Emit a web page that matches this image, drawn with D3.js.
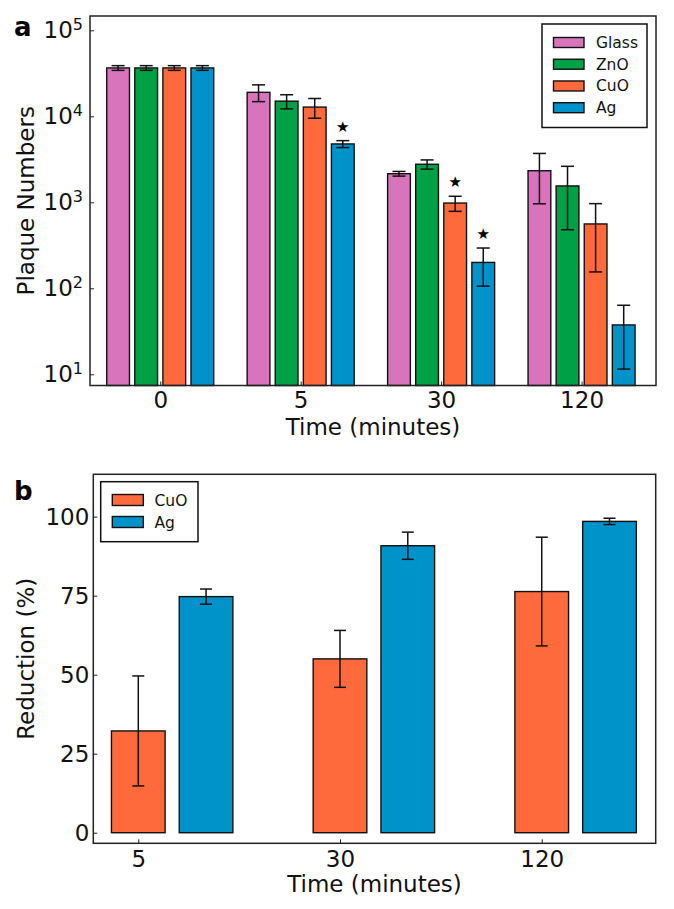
<!DOCTYPE html>
<html>
<head>
<meta charset="utf-8">
<script src="https://cdn.jsdelivr.net/npm/d3@7"></script>
<style>
  body { margin: 0; background: #fff; }
  svg { display: block; font-family: "DejaVu Sans", sans-serif; }
</style>
</head>
<body>
<svg id="chart" width="674" height="909"></svg>
<script>
// panel a: plaque numbers (log scale)
const timeLabels = ['0', '5', '30', '120'];
const materials = ['Glass', 'ZnO', 'CuO', 'Ag'];
const materialColors = ['#d874bc', '#00a046', '#ff6a3d', '#0093c9'];

const glassMean = [36500, 19000, 2150, 2330];
const glassErr = [2300, 4200, 135, 1370];
const znoMean = [36500, 15000, 2770, 1550];
const znoErr = [2300, 2800, 340, 1070];
const cuoMean = [36500, 12800, 980, 560];
const cuoErr = [2300, 3300, 195, 405];
const agMean = [36500, 4770, 200, 37.5];
const agErr = [2300, 440, 94, 26];
// significance stars, per material and time point
const cuoStar = [false, false, true, false];
const agStar = [false, true, true, false];
const logTicks = [10, 100, 1000, 10000, 100000];

// panel b: reduction (%)
const reductionTimes = ['5', '30', '120'];
const reductionMaterials = ['CuO', 'Ag'];
const cuoReduction = [32.2, 55.0, 76.3];
const cuoReductionErr = [17.4, 9.0, 17.2];
const agReduction = [74.7, 90.8, 98.5];
const agReductionErr = [2.4, 4.3, 1.0];
const reductionTicks = [0, 25, 50, 75, 100];

(function() {

  let svg = d3.select('#chart');
  let tickFont = '23px', titleFont = '23px';

  drawPanelA();
  drawPanelB();

  function errorBar(g, x, yScale, mean, err, cap) {
    let yTop = yScale(mean + err), yBot = yScale(mean - err);
    g.append('line').attr('x1', x).attr('x2', x).attr('y1', yTop).attr('y2', yBot);
    g.append('line').attr('x1', x - cap / 2).attr('x2', x + cap / 2).attr('y1', yTop).attr('y2', yTop);
    g.append('line').attr('x1', x - cap / 2).attr('x2', x + cap / 2).attr('y1', yBot).attr('y2', yBot);
  }

  function styleAxis(a) {
    a.select('.domain').remove();
    a.selectAll('.tick line').attr('stroke', '#222');
    a.selectAll('.tick text')
      .attr('font-size', tickFont)
      .attr('fill', '#111')
      .attr('font-family', '"DejaVu Sans", sans-serif');
  }

  function drawPanelA() {
    let left = 90, right = 656, top = 16, bottom = 385.5;
    let x = d3.scaleLinear().domain([-0.5, 3.53]).range([left, right]);
    let y = d3.scaleLog().domain([7.41, 146600]).range([bottom, top]);
    let barW = 0.162, barStep = 0.2;

    let means = [glassMean, znoMean, cuoMean, agMean];
    let errs = [glassErr, znoErr, cuoErr, agErr];
    let stars = [null, null, cuoStar, agStar];

    let g = svg.append('g');

    means.forEach((series, m) => {
      let offset = (m - 1.5) * barStep;
      g.append('g')
        .selectAll('rect')
        .data(series)
        .join('rect')
          .attr('x', (d, i) => x(i + offset - barW / 2))
          .attr('width', x(barW) - x(0))
          .attr('y', (d) => y(d))
          .attr('height', (d) => bottom - y(d))
          .attr('fill', materialColors[m])
          .attr('stroke', '#111')
          .attr('stroke-width', 1.4);
    });

    let eg = g.append('g').attr('stroke', '#111').attr('stroke-width', 1.5);
    means.forEach((series, m) => {
      let offset = (m - 1.5) * barStep;
      series.forEach((d, i) => errorBar(eg, x(i + offset), y, d, errs[m][i], 13));
    });

    // stars
    stars.forEach((flags, m) => {
      if (!flags) return;
      let offset = (m - 1.5) * barStep;
      flags.forEach((f, i) => {
        if (!f) return;
        g.append('text')
          .attr('x', x(i + offset))
          .attr('y', y(means[m][i] + errs[m][i]) - 9)
          .attr('text-anchor', 'middle')
          .attr('font-size', '15px')
          .attr('fill', '#000')
          .text('\u2605');
      });
    });

    // y axis
    let ya = g.append('g')
      .attr('transform', `translate(${left}, 0)`)
      .call(d3.axisLeft(y).tickValues(logTicks).tickSizeInner(-4).tickSizeOuter(0).tickPadding(7));
    styleAxis(ya);
    ya.selectAll('.tick text')
      .each(function(d) {
        let t = d3.select(this).text(null);
        t.append('tspan').text('10');
        t.append('tspan').attr('font-size', '16px').attr('dy', '-8px').text(Math.round(Math.log10(d)));
      });

    // x axis
    let xa = g.append('g')
      .attr('transform', `translate(0, ${bottom})`)
      .call(d3.axisBottom(x).tickValues([0, 1, 2, 3]).tickFormat((d) => timeLabels[d])
        .tickSizeInner(-4).tickSizeOuter(0).tickPadding(6));
    styleAxis(xa);

    // frame
    g.append('rect')
      .attr('x', left).attr('y', top)
      .attr('width', right - left).attr('height', bottom - top)
      .attr('fill', 'none').attr('stroke', '#222').attr('stroke-width', 1.5);

    // titles
    g.append('text')
      .attr('transform', 'rotate(-90)')
      .attr('x', -(top + bottom) / 2).attr('y', 33.5)
      .attr('text-anchor', 'middle')
      .attr('font-size', titleFont).attr('fill', '#111')
      .text('Plaque Numbers');
    g.append('text')
      .attr('x', (left + right) / 2).attr('y', 435)
      .attr('text-anchor', 'middle')
      .attr('font-size', titleFont).attr('fill', '#111')
      .text('Time (minutes)');
    g.append('text')
      .attr('x', 14).attr('y', 36)
      .attr('font-weight', 'bold').attr('font-size', '26px')
      .text('a');

    // legend
    let lg = g.append('g');
    lg.append('rect')
      .attr('x', 542).attr('y', 24).attr('width', 105).attr('height', 103.5)
      .attr('fill', '#fff').attr('stroke', '#111').attr('stroke-width', 1.5);
    let row = d3.scalePoint().domain(materials).range([42.5, 107.7]);
    materials.forEach((name, m) => {
      lg.append('rect')
        .attr('x', 553.5).attr('y', row(name) - 5).attr('width', 30.5).attr('height', 10)
        .attr('fill', materialColors[m]).attr('stroke', '#111').attr('stroke-width', 1.4);
      lg.append('text')
        .attr('x', 596).attr('y', row(name) + 5.5)
        .attr('font-size', '15.5px').attr('fill', '#111')
        .text(name);
    });
  }

  function drawPanelB() {
    let left = 93.3, right = 655.7, top = 474.3, bottom = 843.3;
    let x = d3.scaleLinear().domain([-0.223, 2.565]).range([left, right]);
    let y = d3.scaleLinear().domain([-3.35, 113.4]).range([bottom, top]);
    let barW = 0.266, barOffset = 0.336;
    let colors = [materialColors[2], materialColors[3]];
    let means = [cuoReduction, agReduction];
    let errs = [cuoReductionErr, agReductionErr];

    let g = svg.append('g');

    means.forEach((series, m) => {
      let offset = m * barOffset;
      g.append('g')
        .selectAll('rect')
        .data(series)
        .join('rect')
          .attr('x', (d, i) => x(i + offset - barW / 2))
          .attr('width', x(barW) - x(0))
          .attr('y', (d) => y(d))
          .attr('height', (d) => y(0) - y(d))
          .attr('fill', colors[m])
          .attr('stroke', '#111')
          .attr('stroke-width', 1.4);
    });

    let eg = g.append('g').attr('stroke', '#111').attr('stroke-width', 1.5);
    means.forEach((series, m) => {
      series.forEach((d, i) => errorBar(eg, x(i + m * barOffset), y, d, errs[m][i], 12));
    });

    let ya = g.append('g')
      .attr('transform', `translate(${left}, 0)`)
      .call(d3.axisLeft(y).tickValues(reductionTicks).tickSizeInner(-4).tickSizeOuter(0).tickPadding(4));
    styleAxis(ya);

    let xa = g.append('g')
      .attr('transform', `translate(0, ${bottom})`)
      .call(d3.axisBottom(x).tickValues([0, 1, 2]).tickFormat((d) => reductionTimes[d])
        .tickSizeInner(-4).tickSizeOuter(0).tickPadding(7));
    styleAxis(xa);

    g.append('rect')
      .attr('x', left).attr('y', top)
      .attr('width', right - left).attr('height', bottom - top)
      .attr('fill', 'none').attr('stroke', '#222').attr('stroke-width', 1.5);

    g.append('text')
      .attr('transform', 'rotate(-90)')
      .attr('x', -(top + bottom) / 2).attr('y', 33.5)
      .attr('text-anchor', 'middle')
      .attr('font-size', titleFont).attr('fill', '#111')
      .text('Reduction (%)');
    g.append('text')
      .attr('x', (left + right) / 2).attr('y', 892)
      .attr('text-anchor', 'middle')
      .attr('font-size', titleFont).attr('fill', '#111')
      .text('Time (minutes)');
    g.append('text')
      .attr('x', 14).attr('y', 500)
      .attr('font-weight', 'bold').attr('font-size', '26px')
      .text('b');

    let lg = g.append('g');
    lg.append('rect')
      .attr('x', 100.7).attr('y', 481.7).attr('width', 97.3).attr('height', 60)
      .attr('fill', '#fff').attr('stroke', '#111').attr('stroke-width', 1.5);
    let row = d3.scalePoint().domain(reductionMaterials).range([500, 522]);
    reductionMaterials.forEach((name, m) => {
      lg.append('rect')
        .attr('x', 112.3).attr('y', row(name) - 5.5).attr('width', 31).attr('height', 11)
        .attr('fill', colors[m]).attr('stroke', '#111').attr('stroke-width', 1.4);
      lg.append('text')
        .attr('x', 154.5).attr('y', row(name) + 5.5)
        .attr('font-size', '15.5px').attr('fill', '#111')
        .text(name);
    });
  }

})();
</script>
</body>
</html>
